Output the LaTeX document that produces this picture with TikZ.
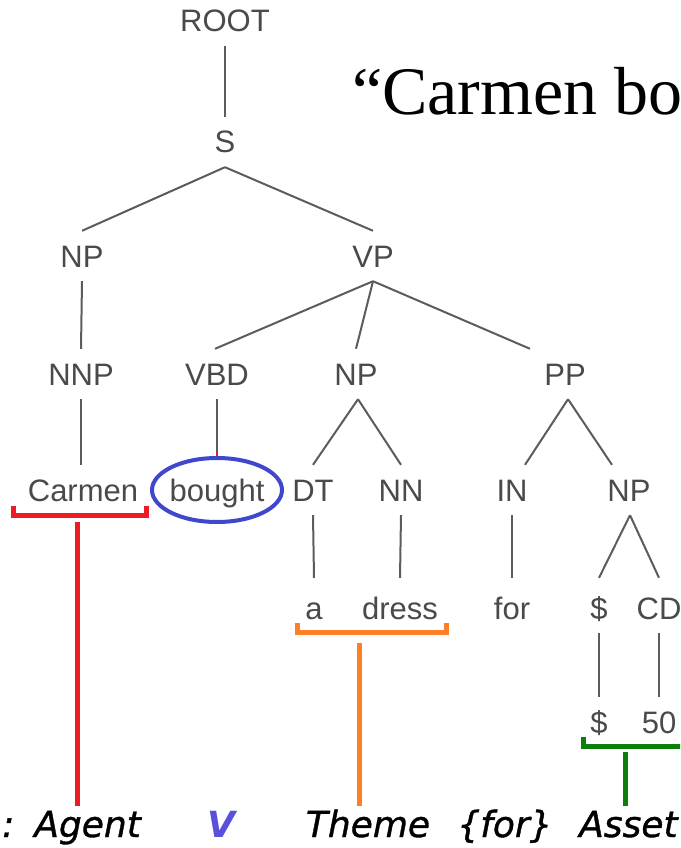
\documentclass[tikz,border=0pt]{standalone}
\usepackage{fontspec}
\setmainfont{Liberation Sans}
\newfontfamily\titlefont{Liberation Serif}
\newfontfamily\lblfont[ItalicFeatures={FakeBold=1}]{DejaVu Sans}
\usetikzlibrary{calc}
\definecolor{treeline}{HTML}{5C5C5C}
\definecolor{treetext}{HTML}{4A4A4A}
\definecolor{myred}{HTML}{ED1C24}
\definecolor{myorange}{HTML}{FF7F27}
\definecolor{mygreen}{HTML}{0A7F0A}
\definecolor{myblue}{HTML}{3F48CC}
\definecolor{myviolet}{HTML}{5A50DC}
\begin{document}
\begin{tikzpicture}[x=1pt,y=-1pt,
  tn/.style={font=\fontsize{31}{31}\selectfont, text=treetext, text height=22pt, text depth=0pt, inner xsep=1pt, inner ysep=14pt},
  br/.style={draw=treeline, line width=2pt},
  lbl/.style={font=\lblfont\itshape\fontsize{36}{36}\selectfont, text=black, inner sep=0pt, anchor=base},
  bracket/.style={line width=5pt},
]
\useasboundingbox (0,0) rectangle (680,848);
\fill[white] (0,0) rectangle (680,848);
\begin{scope}
\clip (0,0) rectangle (680,848);
% title
\node[font=\titlefont\fontsize{68}{68}\selectfont, anchor=base west, inner sep=0pt] (title) at (352,115) {“Carmen bought a dress};
% tree nodes
\node[tn] (ROOT) at (225,21) {ROOT};
\node[tn] (S) at (225,142) {S};
\node[tn] (NP1) at (82,256) {NP};
\node[tn] (VP) at (373,256) {VP};
\node[tn] (NNP) at (81,374) {NNP};
\node[tn] (VBD) at (217,374) {VBD};
\node[tn] (NP2) at (356,374) {NP};
\node[tn] (PP) at (565,374) {PP};
\node[tn] (Carmen) at (83,490) {Carmen};
\node[tn] (bought) at (217,490) {bought};
\node[tn] (DT) at (313,490) {DT};
\node[tn] (NN) at (401,490) {NN};
\node[tn] (IN) at (512,490) {IN};
\node[tn] (NP3) at (629,490) {NP};
\node[tn] (a) at (314,608) {a};
\node[tn] (dress) at (400,608) {dress};
\node[tn] (for) at (512,608) {for};
\node[tn] (dol1) at (599,608) {\$};
\node[tn] (CD) at (659,608) {CD};
\node[tn] (dol2) at (599,722) {\$};
\node[tn] (fifty) at (659,722) {50};
% tree edges
\draw[br] (ROOT.south) -- (S.north);
\draw[br] (S.south) -- (NP1.north);
\draw[br] (S.south) -- (VP.north);
\draw[br] (NP1.south) -- (NNP.north);
\draw[br] (VP.south) -- ([xshift=-2pt]VBD.north);
\draw[br] (VP.south) -- (NP2.north);
\draw[br] (VP.south) -- ([xshift=-35pt]PP.north);
\draw[br] (NNP.south) -- (Carmen.north -| NNP.south);
\coordinate (elltop) at ($(bought.center)+(0,-32)$);
\coordinate (redtip) at ($(elltop)+(0,-6)$);
\draw[br] (VBD.south) -- (redtip);
\draw[myred, line width=2pt] (redtip) -- (elltop);
\draw[br] ([xshift=2pt]NP2.south) -- (DT.north);
\draw[br] ([xshift=2pt]NP2.south) -- (NN.north);
\draw[br] ([xshift=3pt]PP.south) -- ([xshift=13pt]IN.north);
\draw[br] ([xshift=3pt]PP.south) -- ([xshift=-17pt]NP3.north);
\draw[br] (DT.south) -- ([yshift=5pt]a.north);
\draw[br] (NN.south) -- ([yshift=5pt]dress.north);
\draw[br] (IN.south) -- ([yshift=5pt]for.north);
\draw[br] ([xshift=1pt]NP3.south) -- ([yshift=5pt]dol1.north);
\draw[br] ([xshift=1pt]NP3.south) -- ([yshift=5pt]CD.north);
\draw[br] (dol1.south) -- (dol2.north);
\draw[br] (CD.south) -- (fifty.north);
% verb ellipse
\draw[myblue, line width=4pt] (bought.center) ellipse [x radius=65, y radius=32];
% role labels
\node[lbl, anchor=base west] (agent) at (2,837) {:\hspace{20pt}Agent};
\node[lbl, text=myviolet, font=\lblfont\bfseries\itshape\fontsize{36}{36}\selectfont] (verb) at (221,837) {V};
\node[lbl] (theme) at (368,837) {Theme};
\node[lbl] (forlbl) at (505,837) {\{for\}};
\node[lbl, anchor=base west] (asset) at (579,837) {Asset};
% brackets
\draw[myred, bracket] (13,506) -- (13,515.5) -- (146,515.5) -- (146,506);
\coordinate (ra) at (77,522);
\coordinate (rb) at (77,806);
\draw[myred, bracket] (ra) -- (rb);
\draw[myorange, bracket] (297,623) -- (297,632.5) -- (446,632.5) -- (446,623);
\coordinate (oa) at (359,643);
\coordinate (ob) at (359,806);
\draw[myorange, bracket] (oa) -- (ob);
\draw[mygreen, bracket] (583,737) -- (583,746) -- (700,746);
\coordinate (ga) at (625,752);
\coordinate (gb) at (625,806);
\draw[mygreen, bracket] (ga) -- (gb);
\end{scope}
\end{tikzpicture}
\end{document}
